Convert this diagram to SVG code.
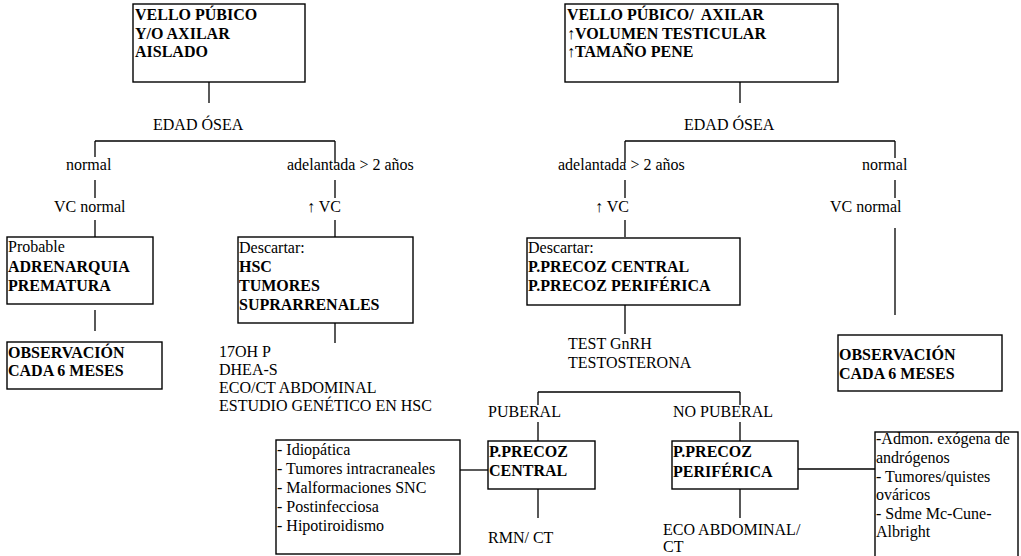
<svg xmlns="http://www.w3.org/2000/svg" width="1021" height="556" viewBox="0 0 1021 556">
  <style>
    text { font-family: "Liberation Serif", "Times New Roman", serif; font-size: 16px; fill: #000; white-space: pre; }
    .b { font-weight: bold; }
    .box { fill: #fff; stroke: #000; stroke-width: 1.4; }
    .ln { stroke: #000; stroke-width: 1.3; fill: none; }
  </style>
  <rect width="1021" height="556" fill="#fff"/>

  <!-- connectors -->
  <g id="connectors" class="ln">
    <!-- left tree -->
    <path d="M209 82V103"/>
    <path d="M95 141H335"/>
    <path d="M95 141V157M95 180V198M95 220V237M95 310V331"/>
    <path d="M335 141V163M335 180V198M335 220V237M335 323V343"/>
    <!-- right tree -->
    <path d="M740 82V103"/>
    <path d="M625 141H895"/>
    <path d="M625 141V163M625 180V198M625 220V237M625 305V334"/>
    <path d="M895 141V158M895 180V198M895 228V315"/>
    <!-- GnRH test split -->
    <path d="M538 392H740"/>
    <path d="M538 392V405M538 422V441M538 489V518"/>
    <path d="M740 392V405M740 422V441M740 489V518"/>
    <path d="M460 470H488"/>
    <path d="M798 469H875"/>
  </g>

  <g id="n-vello-aislado">
    <rect class="box" x="133" y="4" width="172" height="78"/>
    <text class="b" x="135" y="20">VELLO PÚBICO</text>
    <text class="b" x="135" y="38.5">Y/O AXILAR</text>
    <text class="b" x="135" y="57">AISLADO</text>
  </g>
  <g id="n-edad-osea-1"><text x="153" y="130">EDAD ÓSEA</text></g>
  <g id="n-normal-1"><text x="66" y="170">normal</text></g>
  <g id="n-adelantada-1"><text x="287" y="170">adelantada &gt; 2 años</text></g>
  <g id="n-vc-normal-1"><text x="54" y="212">VC normal</text></g>
  <g id="n-vc-up-1"><text x="307" y="212">↑ VC</text></g>

  <g id="n-adrenarquia">
    <rect class="box" x="7" y="237" width="146" height="67"/>
    <text x="8" y="252">Probable</text>
    <text class="b" x="8" y="272">ADRENARQUIA</text>
    <text class="b" x="8" y="291">PREMATURA</text>
  </g>
  <g id="n-obs-1">
    <rect class="box" x="7" y="342" width="155" height="47"/>
    <text class="b" x="8" y="358">OBSERVACIÓN</text>
    <text class="b" x="8" y="376">CADA 6 MESES</text>
  </g>
  <g id="n-descartar-1">
    <rect class="box" x="238" y="237" width="175" height="86"/>
    <text x="239" y="253">Descartar:</text>
    <text class="b" x="239" y="272">HSC</text>
    <text class="b" x="239" y="291">TUMORES</text>
    <text class="b" x="239" y="310">SUPRARRENALES</text>
  </g>
  <g id="n-pruebas-1">
    <text x="219" y="357">17OH P</text>
    <text x="219" y="375">DHEA-S</text>
    <text x="219" y="393">ECO/CT ABDOMINAL</text>
    <text x="219" y="411">ESTUDIO GENÉTICO EN HSC</text>
  </g>

  <g id="n-vello-testicular">
    <rect class="box" x="565" y="4" width="273" height="78"/>
    <text class="b" x="567" y="20">VELLO PÚBICO/  AXILAR</text>
    <text class="b" x="567" y="38.5">↑VOLUMEN TESTICULAR</text>
    <text class="b" x="567" y="57">↑TAMAÑO PENE</text>
  </g>
  <g id="n-edad-osea-2"><text x="684" y="130">EDAD ÓSEA</text></g>
  <g id="n-adelantada-2"><text x="558" y="170">adelantada &gt; 2 años</text></g>
  <g id="n-normal-2"><text x="862" y="170">normal</text></g>
  <g id="n-vc-up-2"><text x="595" y="212">↑ VC</text></g>
  <g id="n-vc-normal-2"><text x="830" y="212">VC normal</text></g>

  <g id="n-descartar-2">
    <rect class="box" x="527" y="238" width="213" height="67"/>
    <text x="528" y="253">Descartar:</text>
    <text class="b" x="528" y="272">P.PRECOZ CENTRAL</text>
    <text class="b" x="528" y="291">P.PRECOZ PERIFÉRICA</text>
  </g>
  <g id="n-obs-2">
    <rect class="box" x="838" y="335" width="164" height="56"/>
    <text class="b" x="839" y="360">OBSERVACIÓN</text>
    <text class="b" x="839" y="379">CADA 6 MESES</text>
  </g>
  <g id="n-gnrh">
    <text x="568" y="349">TEST GnRH</text>
    <text x="568" y="368">TESTOSTERONA</text>
  </g>
  <g id="n-puberal"><text x="488" y="417">PUBERAL</text></g>
  <g id="n-no-puberal"><text x="673" y="417">NO PUBERAL</text></g>

  <g id="n-causas-central">
    <rect class="box" x="276" y="440" width="184" height="114"/>
    <text x="277" y="455">- Idiopática</text>
    <text x="277" y="474">- Tumores intracraneales</text>
    <text x="277" y="493">- Malformaciones SNC</text>
    <text x="277" y="512">- Postinfecciosa</text>
    <text x="277" y="531">- Hipotiroidismo</text>
  </g>
  <g id="n-central">
    <rect class="box" x="488" y="441" width="107" height="48"/>
    <text class="b" x="489" y="457">P.PRECOZ</text>
    <text class="b" x="489" y="476">CENTRAL</text>
  </g>
  <g id="n-rmn"><text x="488" y="543">RMN/ CT</text></g>
  <g id="n-periferica">
    <rect class="box" x="672" y="441" width="126" height="48"/>
    <text class="b" x="673" y="457">P.PRECOZ</text>
    <text class="b" x="673" y="477">PERIFÉRICA</text>
  </g>
  <g id="n-eco">
    <text x="663" y="535">ECO ABDOMINAL/</text>
    <text x="663" y="552">CT</text>
  </g>
  <g id="n-causas-periferica">
    <rect class="box" x="875" y="432" width="143" height="130"/>
    <text x="876" y="444">-Admon. exógena de</text>
    <text x="876" y="463">andrógenos</text>
    <text x="876" y="482">- Tumores/quistes</text>
    <text x="876" y="500">ováricos</text>
    <text x="876" y="519">- Sdme Mc-Cune-</text>
    <text x="876" y="537">Albright</text>
  </g>
</svg>
